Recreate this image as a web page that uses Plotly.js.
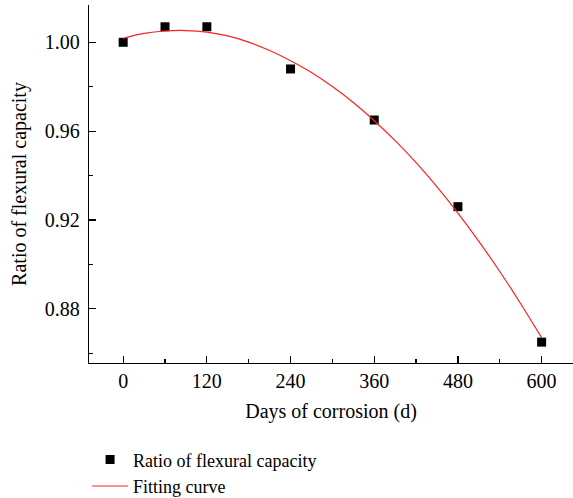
<!DOCTYPE html>
<html>
<head>
<meta charset="utf-8">
<script src="https://cdn.plot.ly/plotly-3.0.1.min.js"></script>
<style>html,body{margin:0;padding:0;background:#fff;}#chart{width:573px;height:498px;}</style>
</head>
<body>
<div id="chart"></div>
<script>
const days = [0, 60, 120, 240, 360, 480, 600];
const ratio = [1.000, 1.007, 1.007, 0.988, 0.965, 0.926, 0.865];

const fitDays = [0, 30, 60, 90, 120, 150, 180, 210, 240, 270, 300, 330, 360, 390, 420, 450, 480, 510, 540, 570, 600];
const fitRatio = [1.0018, 1.0040, 1.0051, 1.0053, 1.0046, 1.0029, 1.0001, 0.9963, 0.9917, 0.9864, 0.9801, 0.9729, 0.9647, 0.9557, 0.9458, 0.9349, 0.9231, 0.9104, 0.8968, 0.8823, 0.8670];

const xTicks = [0, 120, 240, 360, 480, 600];
const xMinor = [60, 180, 300, 420, 540];
const yTicks = [0.88, 0.92, 0.96, 1.00];
const yTickText = ['0.88', '0.92', '0.96', '1.00'];
const yMinor = [0.86, 0.90, 0.94, 0.98];

const font = 'Liberation Serif, Times New Roman, serif';
const fs = 20;

const traces = [
  {
    x: days, y: ratio, mode: 'markers', type: 'scatter',
    name: 'Ratio of flexural capacity',
    marker: {symbol: 'square', size: 9, color: '#000000'}
  },
  {
    x: fitDays, y: fitRatio, mode: 'lines', type: 'scatter',
    name: 'Fitting curve',
    line: {color: '#ff2020', width: 1.2, shape: 'spline'}
  }
];

const layout = {
  width: 573, height: 498,
  margin: {l: 89, r: 0, t: 5, b: 135, autoexpand: false},
  paper_bgcolor: '#fff', plot_bgcolor: '#fff',
  font: {family: font, size: fs, color: '#000'},
  showlegend: true,
  legend: {
    x: -0.004, y: -0.219, xanchor: 'left', yanchor: 'top',
    itemwidth: 36,
    font: {family: font, size: 18, color: '#000'},
    bgcolor: 'rgba(0,0,0,0)', tracegroupgap: 0
  },
  xaxis: {
    range: [-49, 645],
    tickmode: 'array', tickvals: xTicks, ticktext: xTicks.map(String),
    ticks: 'inside', ticklen: 7, tickwidth: 1.2, tickcolor: '#000',
    minor: {tickmode: 'array', tickvals: xMinor, ticks: 'inside', ticklen: 4, tickwidth: 1.2, tickcolor: '#000'},
    showline: true, linecolor: '#000', linewidth: 1.3,
    showgrid: false, zeroline: false,
    tickfont: {family: font, size: fs},
    title: {text: 'Days of corrosion (d)', font: {family: font, size: fs}, standoff: 12}
  },
  yaxis: {
    range: [0.8556, 1.0168],
    tickmode: 'array', tickvals: yTicks, ticktext: yTickText,
    ticks: 'inside', ticklen: 7, tickwidth: 1.2, tickcolor: '#000',
    minor: {tickmode: 'array', tickvals: yMinor, ticks: 'inside', ticklen: 4, tickwidth: 1.2, tickcolor: '#000'},
    showline: true, linecolor: '#000', linewidth: 1.3,
    showgrid: false, zeroline: false,
    tickfont: {family: font, size: fs},
    ticklabelstandoff: 4,
    title: {text: 'Ratio of flexural capacity', font: {family: font, size: fs}, standoff: 12}
  }
};

Plotly.newPlot('chart', traces, layout, {displayModeBar: false, staticPlot: true});
</script>
</body>
</html>
